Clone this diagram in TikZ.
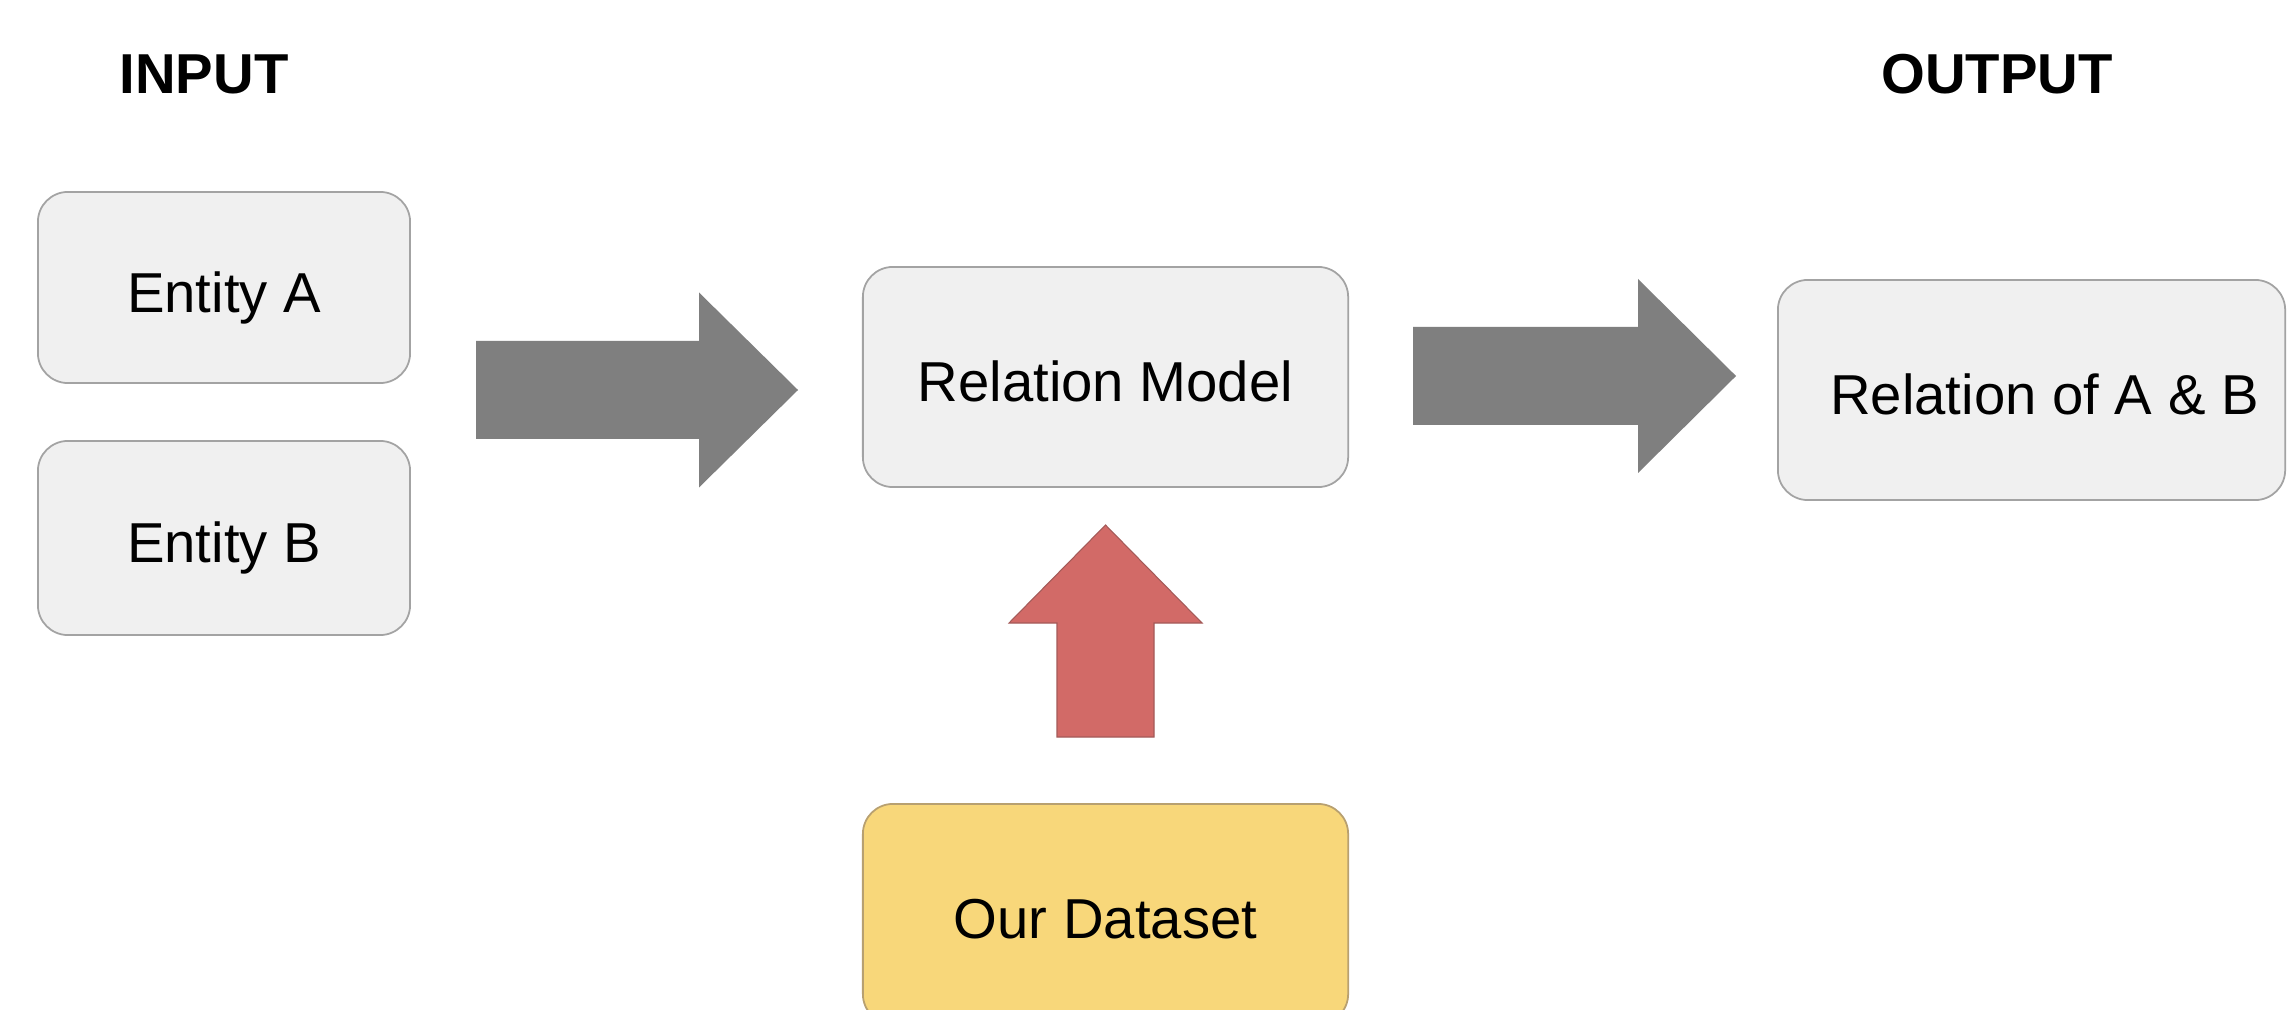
\documentclass[tikz,border=0pt]{standalone}
\usepackage{fontspec}
\setmainfont{Liberation Sans}
\usetikzlibrary{calc}
\definecolor{boxfill}{HTML}{F0F0F0}
\definecolor{boxline}{HTML}{A3A3A3}
\definecolor{arrowgray}{HTML}{7F7F7F}
\definecolor{arrowred}{HTML}{D26A67}
\definecolor{arrowredline}{HTML}{A45A58}
\definecolor{datayellow}{HTML}{F8D77A}
\definecolor{datayellowline}{HTML}{B8A070}
\begin{document}
\begin{tikzpicture}[x=0.01cm,y=-0.01cm,
  box/.style={draw=boxline, fill=boxfill, rounded corners=0.3cm, line width=0.5pt,
    inner sep=0pt, text height=14pt, text depth=0pt, font=\fontsize{16}{19}\selectfont},
  titletext/.style={inner sep=0pt, font=\bfseries\fontsize{16}{19}\selectfont},
  grayarrow/.style={fill=arrowgray},
  redarrow/.style={fill=arrowred, draw=arrowredline, line width=0.3pt}]
\useasboundingbox (0,0) rectangle (2289,1010);
\clip (0,0) rectangle (2289,1010);
\fill[white] (0,0) rectangle (2289,1010);

% titles
\node[titletext] (intitle) at (204,74) {INPUT};
\node[titletext] (outtitle) at (1997,74) {OUTPUT};

% boxes
\node[box, minimum width=3.72cm, minimum height=1.91cm] (ea) at (224,287.5) {Entity A};
\node[box, minimum width=3.72cm, minimum height=1.94cm] (eb) at (224,538) {Entity B};
\node[box, minimum width=4.85cm, minimum height=2.20cm] (rm) at (1105.5,377) {Relation Model};
\node[box, minimum width=5.07cm, minimum height=2.20cm] (out) at (2031.5,390) {\hspace*{0.26cm}Relation of A \& B};
\node[box, fill=datayellow, draw=datayellowline, minimum width=4.85cm, minimum height=2.20cm] (ds) at (1105.5,914) {Our Dataset};

% arrow end points
\coordinate (a1s) at (476,390);
\coordinate (a1t) at (798,390);
\coordinate (a2s) at (1413,376);
\coordinate (a2t) at (1736,376);
\coordinate (a3s) at (1105.5,737);
\coordinate (a3t) at (1105.5,525);

% block arrows
\fill[grayarrow] ($(a1s)+(0,-49)$) -- ($(a1t)+(-99,-49)$) -- ($(a1t)+(-99,-97.5)$) -- (a1t)
  -- ($(a1t)+(-99,97.5)$) -- ($(a1t)+(-99,49)$) -- ($(a1s)+(0,49)$) -- cycle;
\fill[grayarrow] ($(a2s)+(0,-49)$) -- ($(a2t)+(-98,-49)$) -- ($(a2t)+(-98,-97)$) -- (a2t)
  -- ($(a2t)+(-98,97)$) -- ($(a2t)+(-98,49)$) -- ($(a2s)+(0,49)$) -- cycle;
\filldraw[redarrow] ($(a3s)+(-48.5,0)$) -- ($(a3t)+(-48.5,98)$) -- ($(a3t)+(-96.5,98)$) -- (a3t)
  -- ($(a3t)+(96.5,98)$) -- ($(a3t)+(48.5,98)$) -- ($(a3s)+(48.5,0)$) -- cycle;
\end{tikzpicture}
\end{document}
